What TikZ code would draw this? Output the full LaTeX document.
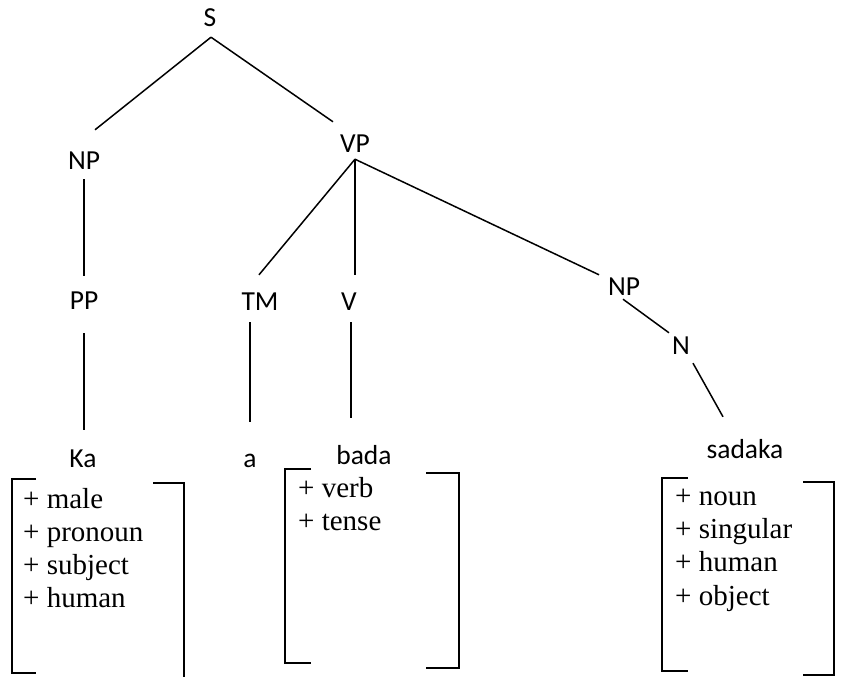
\documentclass[tikz,border=0pt]{standalone}
\usepackage{fontspec}
\newfontfamily\labelfont{Carlito}
\newfontfamily\featfont{Liberation Serif}
\usetikzlibrary{calc}
\begin{document}
\begin{tikzpicture}[x=1pt,y=-1pt,
  cat/.style={inner sep=0pt,anchor=base,text height=18pt,text depth=0pt,
    font=\labelfont\fontsize{27.5}{30}\selectfont},
  feat/.style={inner sep=0pt,anchor=base west,
    font=\featfont\fontsize{29}{33}\selectfont},
  edge/.style={line width=1.5pt,line cap=butt},
  brk/.style={line width=1.6pt,line join=miter}]
\useasboundingbox (0,0) rectangle (841,677);

% category labels
\node[cat] (S)   at (210,27)  {S};
\node[cat] (NP1) at (84,169)  {NP};
\node[cat] (VP)  at (355,152) {VP};
\node[cat] (PP)  at (84,309)  {PP};
\node[cat] (TM)  at (260,310) {TM};
\node[cat] (V)   at (349,310) {V};
\node[cat] (NP2) at (624,295) {NP};
\node[cat] (N)   at (681,354) {N};

% words
\node[cat] (Ka)     at (83,467)  {Ka};
\node[cat] (a)      at (250,467) {a};
\node[cat] (bada)   at (364,464) {bada};
\node[cat] (sadaka) at (745,458) {sadaka};

% branches
\draw[edge] ($(S.south)+(1,10)$) -- ($(NP1.north)+(11,-21)$);
\draw[edge] ($(S.south)+(1,10)$) -- ($(VP.north)+(-22,-12)$);
\draw[edge] ($(NP1.south)+(0,10)$) -- ($(PP.north)+(0,-15)$);
\draw[edge] ($(PP.south)+(0,24)$) -- ($(Ka.north)+(1,-19)$);
\draw[edge] ($(VP.south)+(0,7)$) -- ($(TM.north)+(-1,-17)$);
\draw[edge] ($(VP.south)+(0,7)$) -- ($(V.north)+(6,-17)$);
\draw[edge] ($(VP.south)+(0,7)$) -- ($(NP2.north)+(-25,-2)$);
\draw[edge] ($(TM.south)+(-10,12)$) -- ($(a.north)+(0,-27)$);
\draw[edge] ($(V.south)+(2,12)$) -- ($(bada.north)+(-13,-28)$);
\draw[edge] ($(NP2.south)+(-1,4)$) -- ($(N.north)+(-12,-3)$);
\draw[edge] ($(N.south)+(12,9)$) -- ($(sadaka.north)+(-22,-23)$);

% feature lists
\foreach \t [count=\i from 0] in {male,pronoun,subject,human}
  \node[feat] (ka\i) at (23,{508+33.2*\i}) {+ \t};
\foreach \t [count=\i from 0] in {verb,tense}
  \node[feat] (bd\i) at (298,{497+33*\i}) {+ \t};
\foreach \t [count=\i from 0] in {noun,singular,human,object}
  \node[feat] (sd\i) at (675,{505+33.4*\i}) {+ \t};

% brackets
\draw[brk] (36,479) -- (12,479) -- (12,673) -- (36,673);
\draw[brk] (153,483) -- (184,483) -- (184,680);
\draw[brk] (311,469) -- (285,469) -- (285,663) -- (311,663);
\draw[brk] (426,473) -- (459,473) -- (459,668) -- (426,668);
\draw[brk] (688,478) -- (662,478) -- (662,671) -- (688,671);
\draw[brk] (803,482) -- (834,482) -- (834,675) -- (803,675);
\end{tikzpicture}
\end{document}
